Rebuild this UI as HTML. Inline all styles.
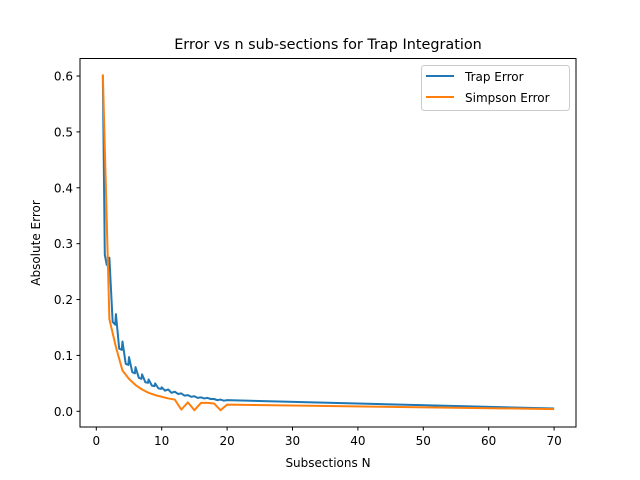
<!DOCTYPE html>
<html><head><meta charset="utf-8"><style>
body{margin:0;background:#fff}
svg{display:block;font-family:"DejaVu Sans","Liberation Sans",sans-serif}
</style></head><body>
<svg id="chart" width="640" height="480">
<rect width="640" height="480" fill="#fff"/>
<text x="328" y="49" text-anchor="middle" font-size="14.4">Error vs n sub-sections for Trap Integration</text>
<g id="ticks"></g>
<g id="lines"></g>
<rect x="80" y="58.5" width="496" height="368.5" fill="none" stroke="#000" stroke-width="1"/>
<text x="328" y="467" text-anchor="middle" font-size="12">Subsections N</text>
<text transform="translate(40,243) rotate(-90)" text-anchor="middle" font-size="12">Absolute Error</text>
<g>
<rect x="421.5" y="65.5" width="148" height="45" rx="3" fill="#fff" stroke="#ccc"/>
<line x1="426" y1="76" x2="454" y2="76" stroke="#1f77b4" stroke-width="2"/>
<text x="465" y="81" font-size="12">Trap Error</text>
<line x1="426" y1="97" x2="454" y2="97" stroke="#ff7f0e" stroke-width="2"/>
<text x="465" y="102" font-size="12">Simpson Error</text>
</g>
</svg>
<script>
const trapX=[1,1.3,1.6,1.9,2,2.5,2.9,3,3.5,3.9,4,4.5,4.9,5,5.5,5.9,6,6.5,6.9,7,7.5,7.9,8,8.5,8.9,9,9.5,9.9,10,10.5,11,11.5,12,12.5,13,13.5,14,14.5,15,15.5,16,16.5,17,17.5,18,18.5,19,19.5,20,70];
const trapY=[0.60,0.28,0.262,0.26,0.275,0.16,0.155,0.174,0.112,0.11,0.125,0.085,0.083,0.097,0.07,0.068,0.079,0.06,0.058,0.066,0.052,0.051,0.057,0.046,0.045,0.050,0.041,0.040,0.043,0.037,0.039,0.033,0.035,0.031,0.032,0.028,0.029,0.026,0.027,0.024,0.025,0.023,0.024,0.022,0.022,0.020,0.021,0.019,0.020,0.005];
const simpX=[1,2,3,4,5,6,7,8,9,10,11,12,13,14,15,16,17,18,19,20,70];
const simpY=[0.603,0.165,0.115,0.073,0.058,0.047,0.039,0.033,0.029,0.026,0.023,0.021,0.003,0.016,0.002,0.015,0.015,0.014,0.002,0.012,0.004];
const xTicks=[0,10,20,30,40,50,60,70];
const yTicks=[0,0.1,0.2,0.3,0.4,0.5,0.6];
const NS='http://www.w3.org/2000/svg';
const xs=v=>96.3+v*6.54;
const ys=v=>411.3-v*558.8;
const tk=document.getElementById('ticks');
xTicks.forEach(t=>{
 const l=document.createElementNS(NS,'line');
 l.setAttribute('x1',xs(t));l.setAttribute('x2',xs(t));l.setAttribute('y1',427);l.setAttribute('y2',430.5);l.setAttribute('stroke','#000');
 
 
 tk.appendChild(l);
 const tx=document.createElementNS(NS,'text');
 tx.setAttribute('x',xs(t));tx.setAttribute('y',445);tx.setAttribute('text-anchor','middle');tx.setAttribute('font-size','12');
 tx.textContent=t;
 
 
 tk.appendChild(tx);
});
yTicks.forEach(t=>{
 const l=document.createElementNS(NS,'line');
 l.setAttribute('x1',76.5);l.setAttribute('x2',80);l.setAttribute('y1',ys(t));l.setAttribute('y2',ys(t));l.setAttribute('stroke','#000');
 
 
 tk.appendChild(l);
 const tx=document.createElementNS(NS,'text');
 tx.setAttribute('x',73);tx.setAttribute('y',ys(t)+4.5);tx.setAttribute('text-anchor','end');tx.setAttribute('font-size','12');
 tx.textContent=t.toFixed(1);
 
 
 tk.appendChild(tx);
});
const lg=document.getElementById('lines');
function line(X,Y,c,name){
 const p=document.createElementNS(NS,'polyline');
 p.setAttribute('points',X.map((x,i)=>xs(x)+','+ys(Y[i])).join(' '));
 p.setAttribute('fill','none');p.setAttribute('stroke',c);p.setAttribute('stroke-width','2');p.setAttribute('stroke-linejoin','round');
 
 
 lg.appendChild(p);
}
line(trapX,trapY,'#1f77b4','trap-error-line');
line(simpX,simpY,'#ff7f0e','simpson-error-line');
</script>
</body></html>
